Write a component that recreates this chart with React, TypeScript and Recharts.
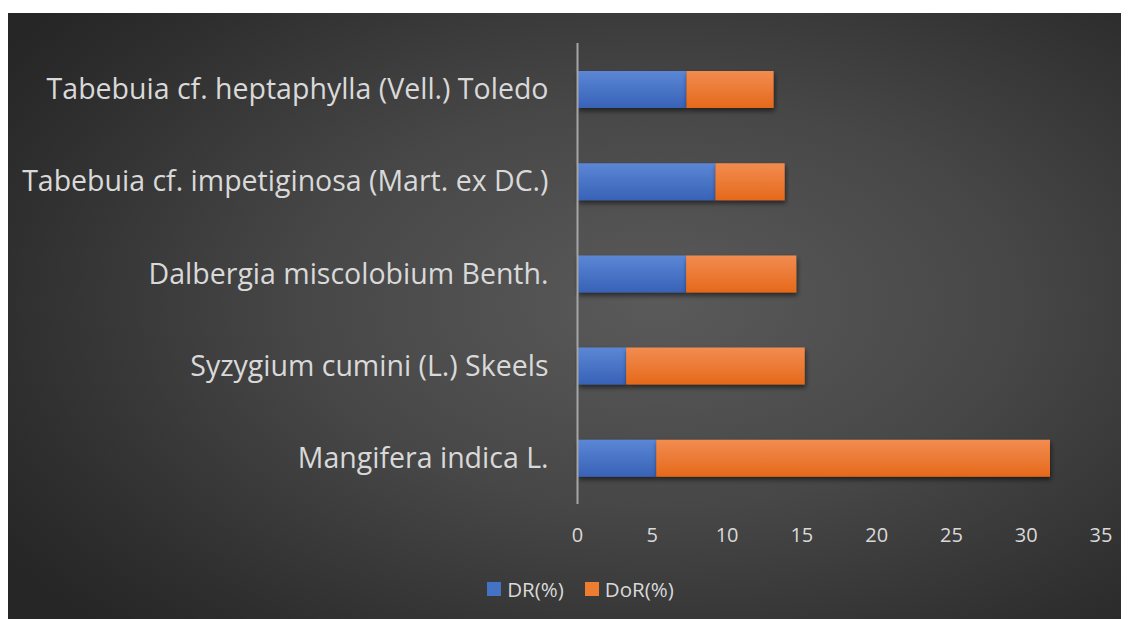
import React from "react";
import { BarChart, Bar, XAxis, YAxis, Legend } from "recharts";

const categories = [
  "Tabebuia cf. heptaphylla (Vell.) Toledo",
  "Tabebuia cf. impetiginosa (Mart. ex DC.)",
  "Dalbergia miscolobium Benth.",
  "Syzygium cumini (L.) Skeels",
  "Mangifera indica L.",
];
const drValues = [7.28, 9.22, 7.26, 3.25, 5.26];
const dorValues = [5.83, 4.63, 7.37, 11.94, 26.33];
const xTicks = [0, 5, 10, 15, 20, 25, 30, 35];
const seriesColors = ["#4472c4", "#ed7d31"];

const data = categories.map((name, i) => ({
  name,
  dr: drValues[i],
  dor: dorValues[i],
}));

const textColor = "#d9d9d9";
const font = "'Open Sans', 'Noto Sans', sans-serif";

const renderLegend = (props: any) => {
  const { payload } = props;
  return (
    <div
      style={{
        display: "flex",
        justifyContent: "center",
        alignItems: "center",
        fontFamily: font,
        color: textColor,
        paddingLeft: 52,
        lineHeight: "30px",
      }}
    >
      {payload.map((entry: any, i: number) => (
        <div key={i} style={{ display: "flex", alignItems: "center", marginRight: i === 0 ? 21 : 0 }}>
          <span
            style={{
              display: "inline-block",
              width: 14,
              height: 14,
              background: seriesColors[i],
              marginRight: 6,
            }}
          />
          <span style={{ fontSize: 20.5, fontFamily: font, color: textColor }}>{entry.value}</span>
        </div>
      ))}
    </div>
  );
};

export default function App() {
  return (
    <div
      style={{
        width: 1121,
        height: 606,
        marginTop: 5,
        background:
          "radial-gradient(ellipse 70% 75% at 58% 48%, #5a5a5a 0%, #474747 45%, #2e2e2e 85%, #262626 100%)",
      }}
    >
      <BarChart
        width={1121}
        height={606}
        data={data}
        layout="vertical"
        margin={{ top: 30, right: 28, bottom: 45, left: 0 }}
        barSize={37}
      >
        <defs>
          <linearGradient id="gBlue" x1="0" y1="0" x2="0" y2="1">
            <stop offset="0%" stopColor="#5b87d6" />
            <stop offset="100%" stopColor="#3862b6" />
          </linearGradient>
          <linearGradient id="gOrange" x1="0" y1="0" x2="0" y2="1">
            <stop offset="0%" stopColor="#f28c50" />
            <stop offset="100%" stopColor="#e5691b" />
          </linearGradient>
          <filter id="shadow" x="-5%" y="-20%" width="110%" height="160%">
            <feDropShadow dx="1" dy="3" stdDeviation="2.5" floodColor="#000" floodOpacity="0.55" />
          </filter>
        </defs>
        <XAxis
          type="number"
          domain={[0, 35]}
          ticks={xTicks}
          axisLine={false}
          tickLine={false}
          tickSize={0}
          tickMargin={24}
          height={40}
          tick={{ fill: textColor, fontSize: 20, fontFamily: font }}
          interval={0}
        />
        <YAxis
          type="category"
          dataKey="name"
          width={569.5}
          axisLine={{ stroke: "#a6a6a6", strokeWidth: 2 }}
          tickLine={false}
          tickSize={0}
          tickMargin={29}
          tick={{ fill: textColor, fontSize: 28.5, fontFamily: font }}
          interval={0}
        />
        <Legend
          verticalAlign="bottom"
          height={30}
          content={renderLegend}
          wrapperStyle={{ bottom: 15 }}
        />
        <Bar dataKey="dr" name="DR(%)" stackId="a" fill="url(#gBlue)" legendType="square" isAnimationActive={false} filter="url(#shadow)" />
        <Bar dataKey="dor" name="DoR(%)" stackId="a" fill="url(#gOrange)" legendType="square" isAnimationActive={false} filter="url(#shadow)" />
      </BarChart>
    </div>
  );
}
